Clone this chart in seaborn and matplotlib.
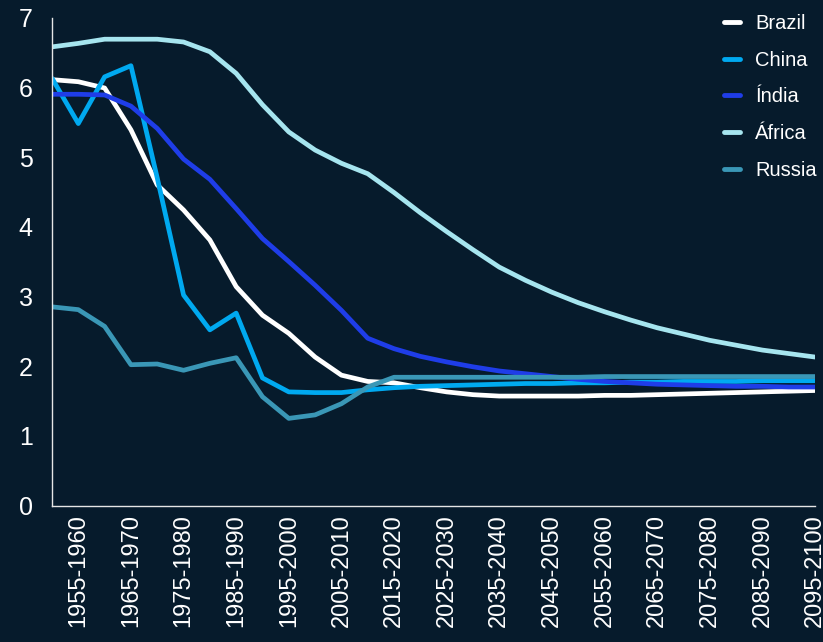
import matplotlib
matplotlib.use("Agg")
import matplotlib.pyplot as plt
import seaborn as sns
import pandas as pd

periods = [f"{y}-{y + 5}" for y in range(1950, 2100, 5)]

brazil = [6.11, 6.08, 5.99, 5.39, 4.60, 4.24, 3.81, 3.14, 2.73, 2.47,
          2.13, 1.87, 1.78, 1.76, 1.69, 1.63, 1.59, 1.57, 1.57, 1.57,
          1.57, 1.58, 1.58, 1.59, 1.60, 1.61, 1.62, 1.63, 1.64, 1.65]
china = [6.13, 5.48, 6.15, 6.31, 4.70, 3.02, 2.52, 2.76, 1.83, 1.63,
         1.62, 1.62, 1.66, 1.69, 1.71, 1.72, 1.73, 1.74, 1.75, 1.75,
         1.76, 1.76, 1.77, 1.77, 1.78, 1.78, 1.78, 1.79, 1.79, 1.79]
india = [5.90, 5.90, 5.89, 5.73, 5.41, 4.97, 4.68, 4.26, 3.83, 3.50,
         3.16, 2.80, 2.40, 2.25, 2.14, 2.06, 1.99, 1.93, 1.89, 1.85,
         1.81, 1.78, 1.76, 1.74, 1.73, 1.72, 1.71, 1.71, 1.70, 1.70]
africa = [6.58, 6.63, 6.69, 6.69, 6.69, 6.65, 6.51, 6.20, 5.75, 5.36,
          5.10, 4.91, 4.76, 4.49, 4.20, 3.93, 3.67, 3.42, 3.23, 3.06,
          2.91, 2.78, 2.66, 2.55, 2.46, 2.37, 2.30, 2.23, 2.18, 2.13]
russia = [2.85, 2.81, 2.57, 2.02, 2.03, 1.94, 2.04, 2.12, 1.56, 1.25,
          1.30, 1.46, 1.70, 1.84, 1.84, 1.84, 1.84, 1.84, 1.84, 1.84,
          1.84, 1.85, 1.85, 1.85, 1.85, 1.85, 1.85, 1.85, 1.85, 1.85]

names = ["Brazil", "China", "Índia", "África", "Russia"]
colors = ["#ffffff", "#00a9f0", "#1f3de8", "#a6e5ef", "#3a97b6"]
bg = "#061b2c"

rows = []
for name, vals in zip(names, [brazil, china, india, africa, russia]):
    for i, v in enumerate(vals):
        rows.append({"idx": i, "period": periods[i], "value": v, "country": name})
df = pd.DataFrame(rows)

sns.set_theme(style="dark")
plt.rcParams["font.family"] = ["Liberation Sans", "DejaVu Sans"]

fig = plt.figure(figsize=(8.23, 6.42), dpi=100, facecolor=bg)
ax = fig.add_axes([52 / 823, 1 - 505.5 / 642, (815 - 52) / 823, (505.5 - 17.6) / 642])
ax.set_facecolor(bg)

sns.lineplot(data=df, x="idx", y="value", hue="country", hue_order=names,
             palette=colors, linewidth=3.4, ax=ax, legend=False)

ax.set_xlim(0, 29)
ax.set_ylim(0, 7)
ax.set_xticks(range(1, 30, 2))
ax.set_xticklabels(periods[1::2], rotation=90, fontsize=17, color="white")
ax.set_yticks(range(0, 8))
ax.set_yticklabels([str(v) for v in range(0, 8)], fontsize=18, color="white")
ax.tick_params(axis="x", length=0, pad=6)
ax.tick_params(axis="y", length=0, pad=14)
ax.set_xlabel("")
ax.set_ylabel("")
ax.grid(False)
for side in ["top", "right"]:
    ax.spines[side].set_visible(False)
for side in ["left", "bottom"]:
    ax.spines[side].set_color("#e6e6e6")
    ax.spines[side].set_linewidth(1.0)

handles = [plt.Line2D([], [], color=c, lw=3.5, solid_capstyle="round") for c in colors]
leg = fig.legend(handles, names, loc="upper left",
                 bbox_to_anchor=(724 / 823, 1 - 14 / 642), bbox_transform=fig.transFigure,
                 frameon=False, fontsize=14.5, handlelength=0.8, handletextpad=0.75,
                 labelspacing=0.88, borderpad=0, borderaxespad=0)
for t in leg.get_texts():
    t.set_color("white")

fig.savefig("out.png", dpi=100, facecolor=bg)
